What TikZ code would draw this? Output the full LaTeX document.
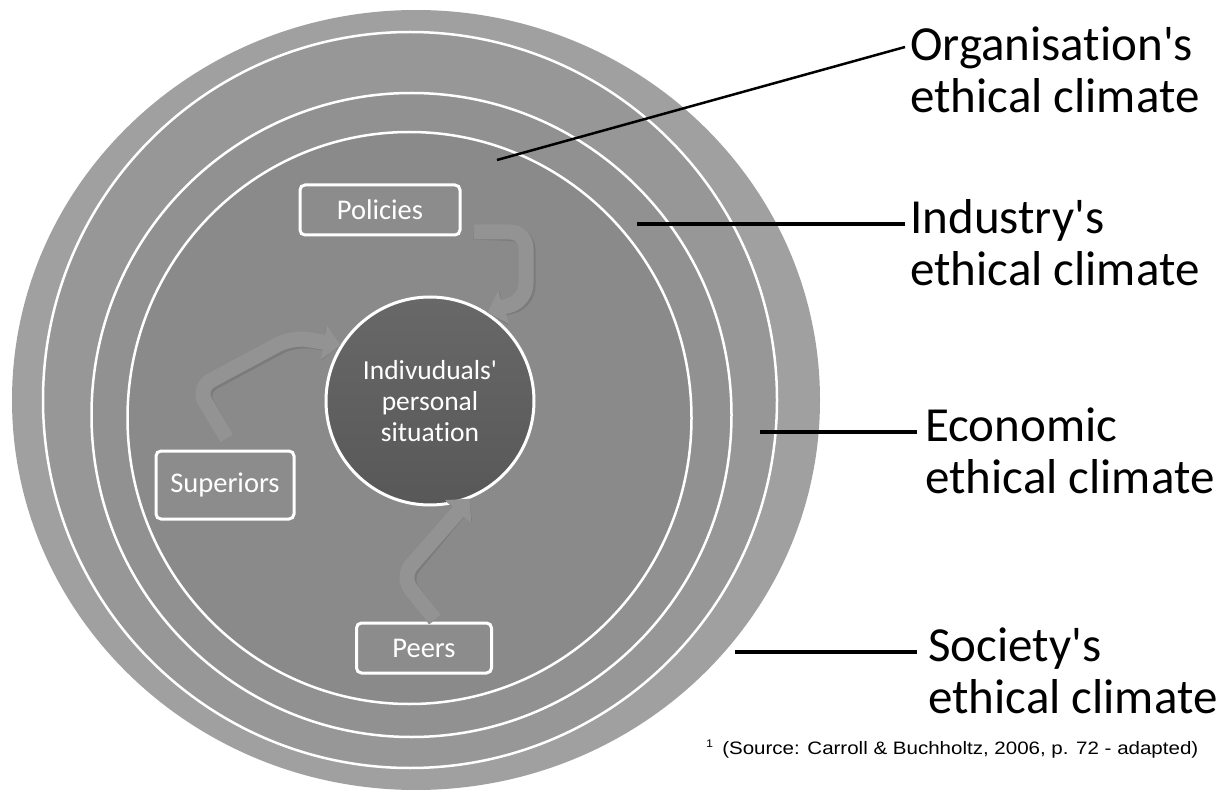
\documentclass[tikz,border=0pt]{standalone}
\usepackage{fontspec}
\setmainfont{Carlito}[Ligatures={TeXOff,NoCommon}]
\newfontfamily\arialf{Liberation Sans}
\usetikzlibrary{arrows.meta}
\definecolor{bandA}{HTML}{A0A0A0}
\definecolor{bandB}{HTML}{979797}
\definecolor{bandC}{HTML}{919191}
\definecolor{bandD}{HTML}{8A8A8A}
\definecolor{arrowc}{HTML}{939393}
\definecolor{shadowc}{HTML}{7B7B7B}
\definecolor{boxfill}{HTML}{8C8C8C}
\definecolor{coreTop}{HTML}{686868}
\definecolor{coreBot}{HTML}{585858}
\begin{document}
\begin{tikzpicture}[x=1pt,y=-1pt,
  ring/.style={draw=white, line width=2.5pt},
  boxnode/.style={draw=white, line width=3pt, rounded corners=5pt, fill=boxfill,
    text=white, font=\fontsize{28.5}{32}\selectfont, inner sep=0pt},
  bigarrow/.style={line width=15pt, rounded corners=16pt,
    -{Triangle[width=34pt,length=17pt]}},
  lead/.style={draw=black, line width=3.5pt},
  lbl/.style={font=\fontsize{49}{52}\selectfont, align=left, inner sep=0pt, text=black}]
\useasboundingbox (0,0) rectangle (1224,794);
\fill[white] (0,0) rectangle (1224,794);
% concentric climates
\fill[bandA] (416,400) ellipse [x radius=404, y radius=390];
\draw[ring, fill=bandB] (410,400) ellipse [x radius=367, y radius=368];
\draw[ring, fill=bandC] (411.5,415) ellipse [x radius=320, y radius=322];
\draw[ring, fill=bandD] (409.5,418) ellipse [x radius=282, y radius=286];
% boxes
\node[boxnode, minimum width=160pt, minimum height=50pt] (pol) at (380,210) {Policies};
\node[boxnode, minimum width=138pt, minimum height=68pt] (sup) at (225,485) {Superiors};
\node[boxnode, minimum width=135pt, minimum height=50pt] (peer) at (424,648) {Peers};
% centre
\node[circle, draw=white, line width=3pt, top color=coreTop, bottom color=coreBot,
  minimum size=208pt, inner sep=0pt, text=white, align=center,
  font=\fontsize{27.5}{31}\selectfont] (ind) at (430,401) {Indivuduals'\\personal\\situation};
% bent arrows
\foreach \c/\o in {shadowc/2, arrowc/0}{
  \draw[bigarrow, draw=\c, shift={(\o,\o)}] ([xshift=12pt,yshift=-22pt]pol.east) -- (526,232) -- (526,300) -- (ind.57);
  \draw[bigarrow, draw=\c, shift={(\o,\o)}] ([xshift=2pt,yshift=11pt]sup.north) -- (197,388) -- (292,337) -- (ind.148);
  \draw[bigarrow, draw=\c, shift={(\o,\o)}] ([xshift=11pt,yshift=2pt]peer.north) -- (401,577) -- (ind.-68);
}
% labels
\node[lbl, anchor=base west] (org) at (910,113) {Organisation's\\ethical climate};
\node[lbl, anchor=base west] (indu) at (910,286) {Industry's\\ethical climate};
\node[lbl, anchor=base west] (eco) at (925,493) {Economic\\ethical climate};
\node[lbl, anchor=base west] (soc) at (928,713) {Society's\\ethical climate};
\coordinate (orgA) at (497,160);
\coordinate (orgB) at (905,47);
\coordinate (induA) at (637,224);
\coordinate (induB) at (905,224);
\coordinate (ecoA) at (760,432);
\coordinate (ecoB) at (917,432);
\coordinate (socA) at (735,652);
\coordinate (socB) at (917,652);
\draw[lead, line width=2.5pt] (orgA) -- (orgB);
\draw[lead] (induA) -- (induB);
\draw[lead] (ecoA) -- (ecoB);
\draw[lead] (socA) -- (socB);
% source
\node[anchor=base west, inner sep=0pt, font=\arialf\fontsize{18}{20}\selectfont] (src) at (706,754)
  {\scalebox{1.14}[1]{\raisebox{7pt}{\fontsize{11}{12}\selectfont 1}\hspace{8pt}(Source: Carroll \& Buchholtz, 2006, p. 72 - adapted)}};
\end{tikzpicture}
\end{document}
